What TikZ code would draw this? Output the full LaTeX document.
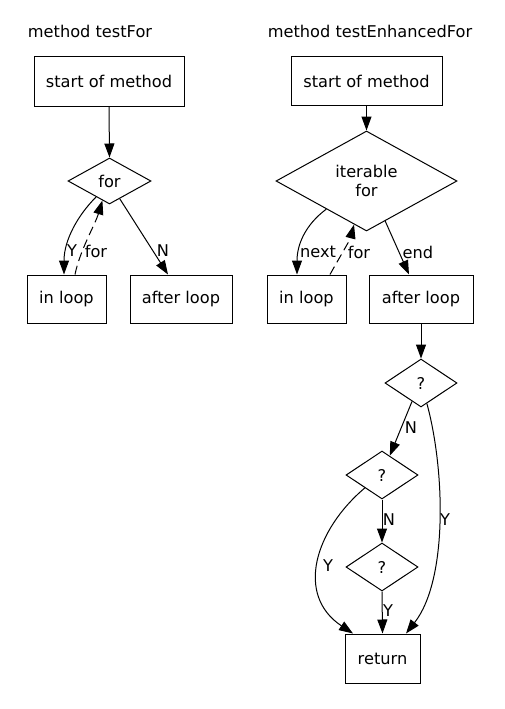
\documentclass[tikz,border=0pt]{standalone}
\usepackage{fontspec}
\setmainfont{DejaVu Sans}
\usetikzlibrary{shapes.geometric,arrows.meta}
\begin{document}
\begin{tikzpicture}[x=1pt,y=-1pt,
  font=\fontsize{16.2}{19}\selectfont,
  box/.style={draw,line width=1pt,rectangle,inner sep=0pt},
  dia/.style={draw,line width=1pt,diamond,inner sep=0pt,aspect=2},
  edge/.style={line width=1pt,-{Triangle[length=14pt,width=10pt]}},
  dedge/.style={edge,dashed,dash pattern=on 9pt off 5pt},
  lbl/.style={inner sep=0pt}]
\fill[white] (0,0) rectangle (504,709);
\useasboundingbox (0,0) rectangle (504,709);

% ---------- left graph ----------
\node[lbl] (t1) at (90,31) {method testFor};
\node[box,minimum width=150pt,minimum height=49pt] (s1) at (109,81.5) {start of method};
\node[dia,minimum width=83pt,minimum height=46pt] (f1) at (109.5,181) {for};
\node[box,minimum width=79pt,minimum height=48pt] (il1) at (66.5,299) {in loop};
\node[box,minimum width=102pt,minimum height=48pt] (al1) at (181,299) {after loop};

\draw[edge] (s1.south) -- (f1.north);
\draw[edge] (f1.230) .. controls (78,215) and (64,240) .. ([xshift=-2.5pt]il1.north);
\draw[dedge] ([xshift=8.5pt]il1.north) .. controls (80,250) and (95,225) .. (f1.250);
\draw[edge] (f1.300) -- ([xshift=-13pt]al1.north);
\node[lbl] (y1) at (72,251) {Y};
\node[lbl] (fo1) at (96,251) {for};
\node[lbl] (n1) at (163,251) {N};

% ---------- right graph ----------
\node[lbl] (t2) at (370,31) {method testEnhancedFor};
\node[box,minimum width=151pt,minimum height=48pt] (s2) at (366.5,81) {start of method};
\node[dia,minimum width=181pt,minimum height=100pt,align=center] (f2) at (366.5,181) {iterable\\for};
\node[box,minimum width=79pt,minimum height=48pt] (il2) at (306.5,299) {in loop};
\node[box,minimum width=104pt,minimum height=48pt] (al2) at (421,299) {after loop};

\draw[edge] (s2.south) -- (f2.north);
\draw[edge] (f2.215.6) .. controls (305,225) and (297,245) .. ([xshift=-9.5pt]il2.north);
\draw[dedge] ([xshift=23.5pt]il2.north) .. controls (338,260) and (350,240) .. (f2.254.5);
\draw[edge] (f2.295.4) -- ([xshift=-12pt]al2.north);
\node[lbl] (nx2) at (318,252) {next};
\node[lbl] (fo2) at (359,252) {for};
\node[lbl] (e2) at (418,252) {end};

\node[dia,minimum width=72pt,minimum height=48pt] (q1) at (421,383) {?};
\node[dia,minimum width=72pt,minimum height=48pt] (q2) at (382,475) {?};
\node[dia,minimum width=72pt,minimum height=48pt] (q3) at (382,567) {?};
\node[box,minimum width=75pt,minimum height=49pt] (r) at (382.5,658.5) {return};

\draw[edge] (al2.south) -- (q1.north);
\draw[edge] (q1.244.7) -- (q2.68);
\draw[edge] (q1.286) .. controls (445,470) and (448,580) .. ([xshift=23.5pt]r.north);
\draw[edge] (q2.217) .. controls (315,530) and (295,595) .. ([xshift=-29.5pt]r.north);
\draw[edge] (q2.south) -- (q3.north);
\draw[edge] (q3.south) -- (r.north);
\node[lbl] (nq1) at (411,428) {N};
\node[lbl] (yq1) at (445,520) {Y};
\node[lbl] (yq2) at (328,566) {Y};
\node[lbl] (nq2) at (389,520) {N};
\node[lbl] (yq3) at (388,611) {Y};
\end{tikzpicture}
\end{document}
